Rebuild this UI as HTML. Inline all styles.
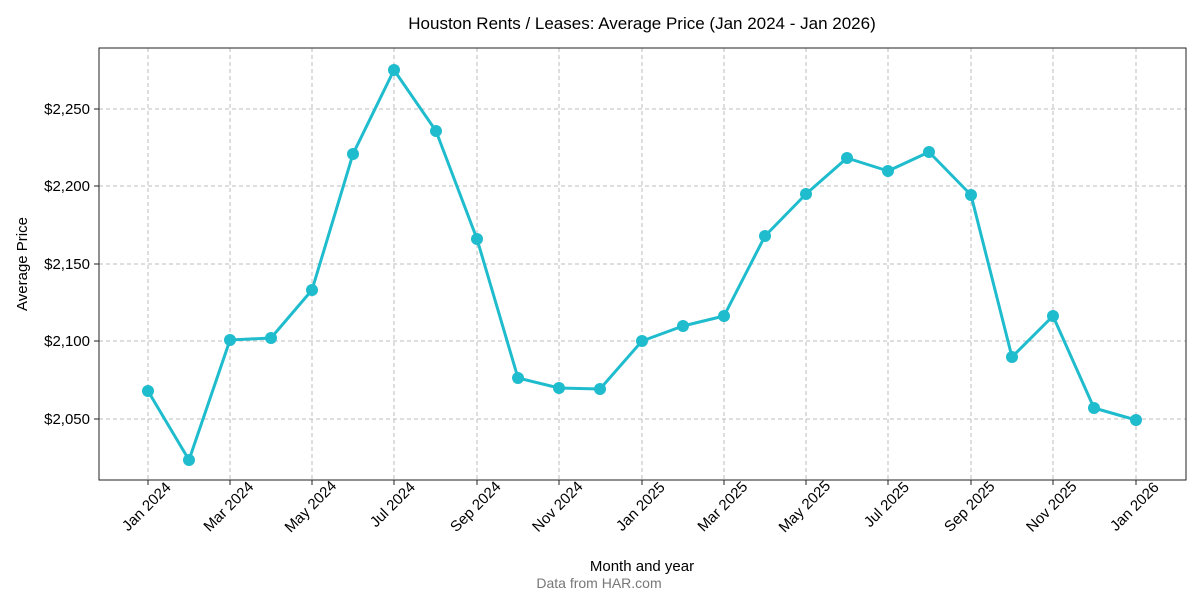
<!DOCTYPE html>
<html><head><meta charset="utf-8"><style>body{margin:0;background:#fff}svg{display:block;font-family:"Liberation Sans",sans-serif}</style></head><body>
<svg width="1200" height="600" viewBox="0 0 1200 600">
<rect width="1200" height="600" fill="#fff"/>
<text x="642" y="29" font-size="17" text-anchor="middle" fill="#000">Houston Rents / Leases: Average Price (Jan 2024 - Jan 2026)</text>
<g stroke="#bdbdbd" stroke-width="1" stroke-dasharray="4,3">
<line x1="99" x2="1186" y1="109" y2="109"/><line x1="99" x2="1186" y1="186" y2="186"/><line x1="99" x2="1186" y1="264" y2="264"/><line x1="99" x2="1186" y1="341" y2="341"/><line x1="99" x2="1186" y1="419" y2="419"/>
<line y1="48" y2="480" x1="148" x2="148"/><line y1="48" y2="480" x1="230" x2="230"/><line y1="48" y2="480" x1="312" x2="312"/><line y1="48" y2="480" x1="394" x2="394"/><line y1="48" y2="480" x1="477" x2="477"/><line y1="48" y2="480" x1="559" x2="559"/><line y1="48" y2="480" x1="642" x2="642"/><line y1="48" y2="480" x1="724" x2="724"/><line y1="48" y2="480" x1="806" x2="806"/><line y1="48" y2="480" x1="888" x2="888"/><line y1="48" y2="480" x1="971" x2="971"/><line y1="48" y2="480" x1="1053" x2="1053"/><line y1="48" y2="480" x1="1136" x2="1136"/>
</g>
<rect x="99" y="48" width="1087" height="432" fill="none" stroke="#222" stroke-width="1"/>
<g stroke="#222" stroke-width="1">
<line x1="94" x2="99" y1="109" y2="109"/><line x1="94" x2="99" y1="186" y2="186"/><line x1="94" x2="99" y1="264" y2="264"/><line x1="94" x2="99" y1="341" y2="341"/><line x1="94" x2="99" y1="419" y2="419"/>
<line y1="480" y2="485" x1="148" x2="148"/><line y1="480" y2="485" x1="230" x2="230"/><line y1="480" y2="485" x1="312" x2="312"/><line y1="480" y2="485" x1="394" x2="394"/><line y1="480" y2="485" x1="477" x2="477"/><line y1="480" y2="485" x1="559" x2="559"/><line y1="480" y2="485" x1="642" x2="642"/><line y1="480" y2="485" x1="724" x2="724"/><line y1="480" y2="485" x1="806" x2="806"/><line y1="480" y2="485" x1="888" x2="888"/><line y1="480" y2="485" x1="971" x2="971"/><line y1="480" y2="485" x1="1053" x2="1053"/><line y1="480" y2="485" x1="1136" x2="1136"/>
</g>
<g font-size="15" fill="#000" text-anchor="end">
<text x="90" y="114">$2,250</text><text x="90" y="191">$2,200</text><text x="90" y="269">$2,150</text><text x="90" y="346">$2,100</text><text x="90" y="424">$2,050</text>
</g>
<g font-size="15" fill="#000" text-anchor="middle">
<text transform="translate(150,510) rotate(-45)">Jan 2024</text>
<text transform="translate(232,510) rotate(-45)">Mar 2024</text>
<text transform="translate(314,510) rotate(-45)">May 2024</text>
<text transform="translate(396,508) rotate(-45)">Jul 2024</text>
<text transform="translate(479,510) rotate(-45)">Sep 2024</text>
<text transform="translate(561,510) rotate(-45)">Nov 2024</text>
<text transform="translate(644,510) rotate(-45)">Jan 2025</text>
<text transform="translate(726,510) rotate(-45)">Mar 2025</text>
<text transform="translate(808,510) rotate(-45)">May 2025</text>
<text transform="translate(890,508) rotate(-45)">Jul 2025</text>
<text transform="translate(973,510) rotate(-45)">Sep 2025</text>
<text transform="translate(1055,510) rotate(-45)">Nov 2025</text>
<text transform="translate(1138,510) rotate(-45)">Jan 2026</text>
</g>
<text x="642" y="571" font-size="15" text-anchor="middle" fill="#000">Month and year</text>
<text x="599" y="588" font-size="14" text-anchor="middle" fill="#777">Data from HAR.com</text>
<text transform="translate(27,264) rotate(-90)" font-size="15" text-anchor="middle" fill="#000">Average Price</text>
<polyline fill="none" stroke="#1fbccd" stroke-width="3" stroke-linejoin="round" points="148,391 189,460 230,340 271,338 312,290 353,154 394,70 436,131 477,239 518,378 559,388 600,389 642,341 683,326 724,316 765,236 806,194 847,158 888,171 929,152 971,195 1012,357 1053,316 1094,408 1136,420"/>
<g fill="#1fbccd">
<circle cx="148" cy="391" r="6"/><circle cx="189" cy="460" r="6"/><circle cx="230" cy="340" r="6"/><circle cx="271" cy="338" r="6"/><circle cx="312" cy="290" r="6"/><circle cx="353" cy="154" r="6"/><circle cx="394" cy="70" r="6"/><circle cx="436" cy="131" r="6"/><circle cx="477" cy="239" r="6"/><circle cx="518" cy="378" r="6"/><circle cx="559" cy="388" r="6"/><circle cx="600" cy="389" r="6"/><circle cx="642" cy="341" r="6"/><circle cx="683" cy="326" r="6"/><circle cx="724" cy="316" r="6"/><circle cx="765" cy="236" r="6"/><circle cx="806" cy="194" r="6"/><circle cx="847" cy="158" r="6"/><circle cx="888" cy="171" r="6"/><circle cx="929" cy="152" r="6"/><circle cx="971" cy="195" r="6"/><circle cx="1012" cy="357" r="6"/><circle cx="1053" cy="316" r="6"/><circle cx="1094" cy="408" r="6"/><circle cx="1136" cy="420" r="6"/>
</g>
</svg>
</body></html>
